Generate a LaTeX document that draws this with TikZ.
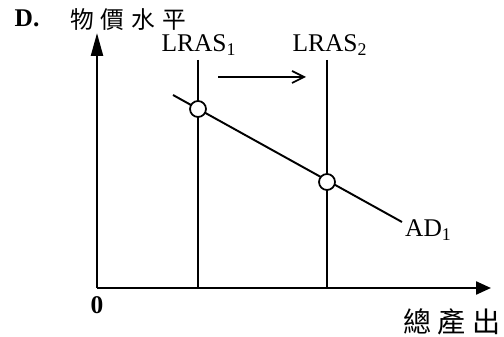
\documentclass[tikz,border=0pt]{standalone}
\usepackage{fontspec}
\setmainfont{Liberation Serif}
\newfontfamily\cjk{Noto Sans CJK TC}
\usetikzlibrary{arrows.meta, positioning}
\tikzset{
  axis/.style={line width=1.3pt},
  curve/.style={line width=1.1pt},
  movearr/.style={-{Straight Barb[length=2.4mm, width=2.4mm]}, line width=1pt},
  eq/.style={circle, draw, line width=1pt, fill=white, inner sep=0pt,
             minimum size=3.2mm},
  lbl/.style={font=\fontsize{14.5}{16}\selectfont, inner sep=1pt},
  zh/.style={font=\fontsize{13.5}{15}\selectfont\cjk, inner sep=1pt}
}
\begin{document}
\begin{tikzpicture}[x=0.02cm, y=-0.02cm]
  \useasboundingbox (0,0) rectangle (504,337);
  % axes
  \coordinate (O) at (97,288);
  \coordinate (ytop) at (97,33);
  \coordinate (xend) at (491,288);
  \draw[axis, -{Triangle[length=4.6mm, width=2.4mm]}] (O) -- (ytop);
  \draw[axis, -{Triangle[length=3mm, width=2.6mm]}] (O) -- (xend);
  \node[lbl, font=\fontsize{14.5}{16}\selectfont\bfseries] (tag) at (27,18) {D.};
  \node[zh] (ylab) at (128,20) {物\hspace{1.4mm}價\hspace{1.4mm}水\hspace{1.4mm}平};
  \node[zh, font=\fontsize{16}{18}\selectfont\cjk] (xlab) at (452,322) {總\hspace{1.2mm}產\hspace{1.2mm}出};
  \node[lbl, font=\fontsize{14.5}{16}\selectfont\bfseries] (zero) at (97,305) {0};
  % long-run supply
  \node[lbl] (lras1) at (199,45) {LRAS\textsubscript{1}};
  \node[lbl] (lras2) at (330,45) {LRAS\textsubscript{2}};
  \coordinate (s1top) at (198,60);
  \coordinate (s1bot) at (198,288);
  \coordinate (s2top) at (327,60);
  \coordinate (s2bot) at (327,288);
  \draw[curve] (s1top) -- (s1bot);
  \draw[curve] (s2top) -- (s2bot);
  \coordinate (mv0) at (218,77);
  \coordinate (mv1) at (306,77);
  \draw[movearr] (mv0) -- (mv1);
  % demand
  \coordinate (ad0) at (173,95);
  \coordinate (ad1) at (402,222);
  \draw[curve] (ad0) -- (ad1);
  \node[lbl, anchor=west] (adlab) at (403,230) {AD\textsubscript{1}};
  \node[eq] (e1) at (198,109) {};
  \node[eq] (e2) at (327,182) {};
\end{tikzpicture}
\end{document}
